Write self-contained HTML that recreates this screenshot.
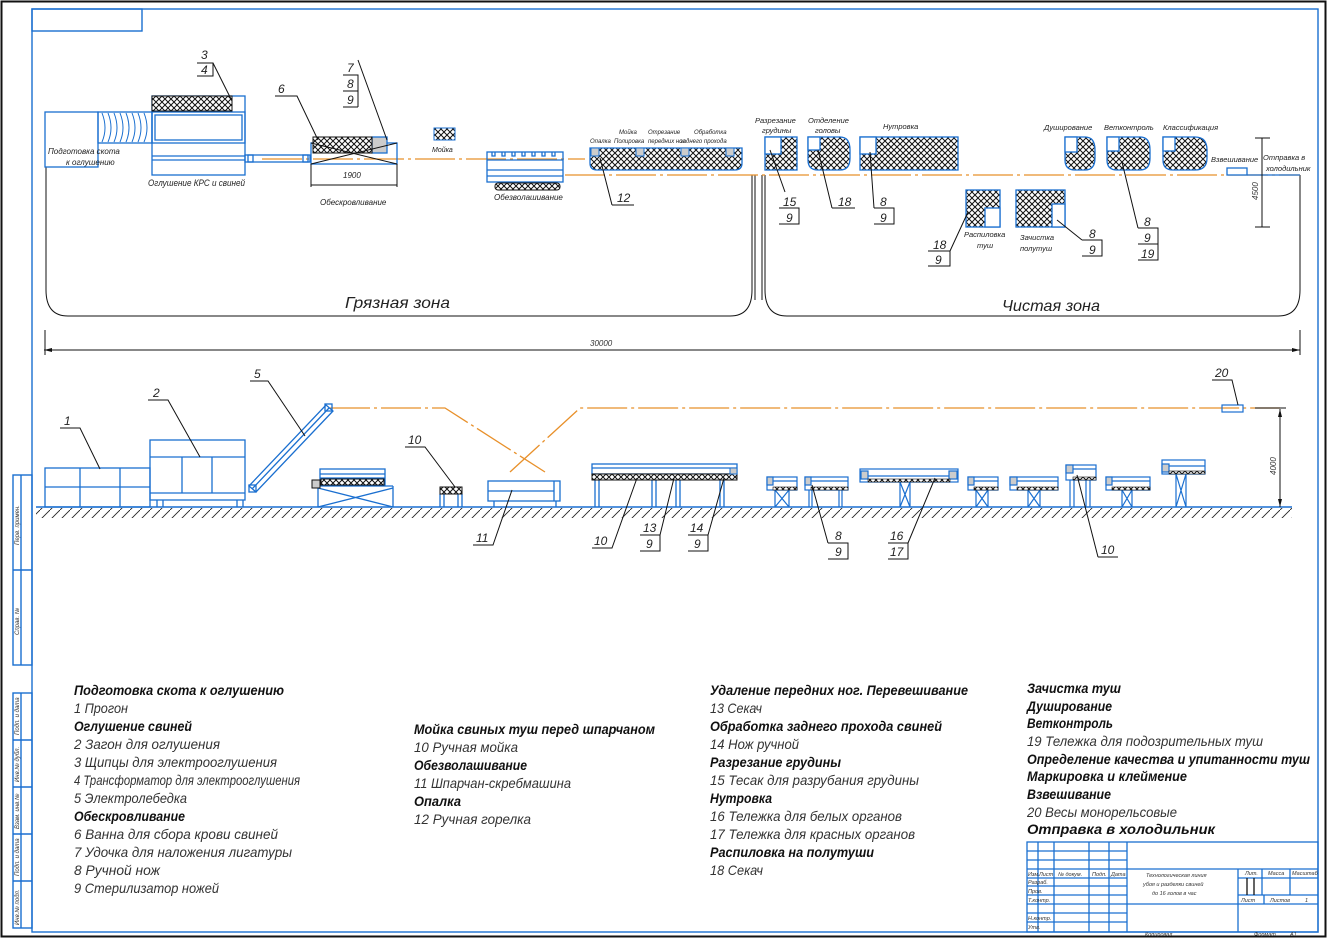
<!DOCTYPE html>
<html><head><meta charset="utf-8"><style>
html,body{margin:0;padding:0;background:#fff}
svg{display:block}
text{font-family:"Liberation Sans","DejaVu Sans",sans-serif;font-style:italic}
</style></head><body>
<svg width="1327" height="938" viewBox="0 0 1327 938" xmlns="http://www.w3.org/2000/svg">
<defs>
<pattern id="h" width="6" height="6" patternUnits="userSpaceOnUse">
<rect width="6" height="6" fill="#fff"/>
<path d="M0 0L6 6M6 0L0 6" stroke="#111" stroke-width="1"/>
</pattern>
<pattern id="g" width="10" height="10" patternUnits="userSpaceOnUse">
<path d="M0 10L10 0" stroke="#222" stroke-width="0.9"/>
</pattern>
</defs>
<rect x="0" y="0" width="1327" height="938" fill="#fff"/>
<rect x="1.5" y="1.5" width="1324" height="935" fill="none" stroke="#111" stroke-width="2"/>
<g fill="none" stroke="#1a6fd0" stroke-width="1.4">
<rect x="32" y="9" width="1286" height="923"/>
<rect x="32" y="9" width="110" height="22"/>
<!-- left strips -->
<rect x="13" y="475" width="19" height="190"/><line x1="21" y1="475" x2="21" y2="665"/><line x1="13" y1="570" x2="32" y2="570"/>
<rect x="13" y="693" width="19" height="235"/><line x1="21" y1="693" x2="21" y2="928"/>
<line x1="13" y1="740" x2="32" y2="740"/><line x1="13" y1="787" x2="32" y2="787"/><line x1="13" y1="834" x2="32" y2="834"/><line x1="13" y1="881" x2="32" y2="881"/>
</g>
<g font-size="6" fill="#333">
<text transform="translate(19,545) rotate(-90)">Перв. примен.</text>
<text transform="translate(19,635) rotate(-90)">Справ. №</text>
<text transform="translate(19,735) rotate(-90)">Подп. и дата</text>
<text transform="translate(19,782) rotate(-90)">Инв.№ дубл.</text>
<text transform="translate(19,829) rotate(-90)">Взам. инв.№</text>
<text transform="translate(19,876) rotate(-90)">Подп. и дата</text>
<text transform="translate(19,925) rotate(-90)">Инв.№ подл.</text>
</g>

<!-- ========== TOP PLAN ========== -->
<!-- zone outlines -->
<g fill="none" stroke="#111" stroke-width="1">
<path d="M46 167 V290 Q46 316 68 316 H730 Q752 316 752 290 V175"/>
<path d="M765 175 V290 Q765 316 787 316 H1278 Q1300 316 1300 290 V175"/>
<line x1="755" y1="175" x2="755" y2="300"/><line x1="762" y1="175" x2="762" y2="300"/>
<line x1="44" y1="350" x2="1300" y2="350"/>
<line x1="45" y1="330" x2="45" y2="355"/><line x1="1300" y1="330" x2="1300" y2="355"/>
</g>
<path d="M44 350l8 -2v4zM1300 350l-8 -2v4z" fill="#111"/>
<text x="590" y="346" font-size="8" fill="#333">30000</text>
<text x="345" y="308" font-size="16" fill="#222" textLength="105" lengthAdjust="spacingAndGlyphs">Грязная зона</text>
<text x="1002" y="311" font-size="16" fill="#222" textLength="98" lengthAdjust="spacingAndGlyphs">Чистая зона</text>

<!-- orange line -->
<g stroke="#e8902a" stroke-width="1.3" fill="none" stroke-dasharray="40 4 3 4">
<line x1="262" y1="159" x2="585" y2="159"/>
<line x1="565" y1="175" x2="1300" y2="175"/>
</g>

<!-- stunning area -->
<g fill="none" stroke="#1a6fd0" stroke-width="1.3">
<rect x="45" y="112" width="53" height="55"/>
<rect x="98" y="112" width="54" height="31"/>
<path d="M102 113 q6 15 0 29 M108 113 q6 15 0 29 M114 113 q6 15 0 29 M120 113 q6 15 0 29 M126 113 q6 15 0 29 M132 113 q6 15 0 29 M138 113 q6 15 0 29 M144 113 q6 15 0 29" stroke-width="1"/>
<rect x="152" y="96" width="93" height="79"/>
<rect x="152" y="112" width="93" height="31"/>
<rect x="155" y="115" width="87" height="25"/>
<line x1="152" y1="156" x2="245" y2="156"/><line x1="152" y1="160" x2="245" y2="160"/>
<rect x="245" y="155" width="65" height="7"/>
<rect x="248" y="155" width="5" height="7"/><rect x="303" y="155" width="5" height="7"/>
</g>
<rect x="152" y="96" width="80" height="15" fill="url(#h)" stroke="#111"/>
<text x="48" y="154" font-size="8" fill="#222">Подготовка скота</text>
<text x="66" y="165" font-size="8" fill="#222">к оглушению</text>
<text x="148" y="186" font-size="9" fill="#222" textLength="97" lengthAdjust="spacingAndGlyphs">Оглушение КРС и свиней</text>

<!-- bleeding -->
<g fill="none" stroke="#1a6fd0" stroke-width="1.3">
<rect x="311" y="143" width="86" height="21"/>
<rect x="372" y="137" width="15" height="16" fill="#ccc"/>
</g>
<rect x="313" y="137" width="59" height="16" fill="url(#h)" stroke="#111"/>
<path d="M311 143 L397 164 M311 164 L397 143" stroke="#111" fill="none"/>
<path d="M311 164 V187 M397 164 V187 M311 185 H397" stroke="#111" fill="none"/>
<text x="343" y="178" font-size="8" fill="#222">1900</text>
<text x="320" y="205" font-size="8" fill="#222">Обескровливание</text>

<rect x="434" y="128" width="21" height="12" fill="url(#h)" stroke="#1a6fd0"/>
<text x="432" y="152" font-size="7" fill="#222">Мойка</text>

<!-- dehairing -->
<g fill="none" stroke="#1a6fd0" stroke-width="1.3">
<rect x="487" y="152" width="76" height="30"/>
<line x1="487" y1="160" x2="563" y2="160"/><line x1="487" y1="170" x2="563" y2="170"/><line x1="487" y1="176" x2="563" y2="176"/>
<path d="M492 152v4h3v-4M502 152v4h3v-4M512 152v4h3v-4M522 152v4h3v-4M532 152v4h3v-4M542 152v4h3v-4M552 152v4h3v-4"/>
</g>
<rect x="495" y="183" width="65" height="7" rx="3" fill="url(#h)" stroke="#111"/>
<text x="494" y="200" font-size="8" fill="#222">Обезволашивание</text>

<!-- singeing bar 12 -->
<path d="M590 148 H742 V163 Q742 170 735 170 H597 Q590 170 590 163 Z" fill="url(#h)" stroke="#1a6fd0" stroke-width="1.3"/>
<g fill="#ccc" stroke="#1a6fd0"><rect x="591" y="148" width="8" height="8"/><rect x="636" y="148" width="8" height="8"/><rect x="681" y="148" width="8" height="8"/><rect x="726" y="148" width="8" height="8"/></g>
<g font-size="6" fill="#222">
<text x="590" y="143">Опалка</text><text x="614" y="143">Полировка</text><text x="619" y="134">Мойка</text>
<text x="648" y="134">Отрезание</text><text x="648" y="143">передних ног</text>
<text x="694" y="134">Обработка</text><text x="680" y="143">заднего прохода</text>
</g>

<!-- clean zone blocks -->
<g stroke="#1a6fd0" stroke-width="1.3">
<rect x="765" y="137" width="32" height="33" fill="url(#h)"/><rect x="765" y="137" width="16" height="17" fill="#fff"/>
<path d="M808 137 H840 Q850 137 850 150 V158 Q850 170 840 170 H818 Q808 170 808 160 Z" fill="url(#h)"/><rect x="808" y="137" width="12" height="13" fill="#fff"/>
<rect x="860" y="137" width="98" height="33" fill="url(#h)"/><rect x="860" y="137" width="16" height="17" fill="#fff"/>
<path d="M1065 137 H1085 Q1095 137 1095 150 V158 Q1095 170 1085 170 H1075 Q1065 170 1065 160 Z" fill="url(#h)"/><rect x="1065" y="137" width="12" height="15" fill="#fff"/>
<path d="M1107 137 H1140 Q1150 137 1150 150 V158 Q1150 170 1140 170 H1117 Q1107 170 1107 160 Z" fill="url(#h)"/><rect x="1107" y="137" width="12" height="14" fill="#fff"/>
<path d="M1163 137 H1195 Q1207 137 1207 150 V158 Q1207 170 1195 170 H1173 Q1163 170 1163 160 Z" fill="url(#h)"/><rect x="1163" y="137" width="12" height="14" fill="#fff"/>
<rect x="1227" y="168" width="20" height="7" fill="#fff"/>
<rect x="966" y="190" width="34" height="37" fill="url(#h)"/><rect x="985" y="208" width="15" height="19" fill="#fff"/>
<rect x="1016" y="190" width="49" height="37" fill="url(#h)"/><rect x="1052" y="204" width="13" height="23" fill="#fff"/>
</g>
<line x1="1247" y1="175" x2="1300" y2="175" stroke="#1a6fd0" stroke-width="1.3"/>
<g font-size="7.5" fill="#222">
<text x="755" y="123">Разрезание</text><text x="762" y="133">грудины</text>
<text x="808" y="123">Отделение</text><text x="815" y="133">головы</text>
<text x="883" y="129">Нутровка</text>
<text x="1044" y="130">Душирование</text><text x="1104" y="130">Ветконтроль</text><text x="1163" y="130">Классификация</text>
<text x="1211" y="162">Взвешивание</text>
<text x="1263" y="160">Отправка в</text><text x="1266" y="171">холодильник</text>
<text x="964" y="237">Распиловка</text><text x="977" y="248">туш</text>
<text x="1020" y="240">Зачистка</text><text x="1020" y="251">полутуш</text>
</g>
<g stroke="#111" fill="none"><line x1="1262" y1="138" x2="1262" y2="227"/><line x1="1255" y1="138" x2="1270" y2="138"/><line x1="1255" y1="227" x2="1270" y2="227"/></g>
<text transform="translate(1258,200) rotate(-90)" font-size="8" fill="#333">4500</text>

<!-- leaders top -->
<g stroke="#111" fill="none" stroke-width="1">
<path d="M197 63 H213 V76 H197 M213 63 L232 101"/>
<path d="M275 96 H297 L318 140"/>
<path d="M343 75 H358 V107 M343 91 H358 M343 107 H358 M358 60 L387 140"/>
<path d="M612 205 H634 M612 205 L600 158"/>
<path d="M779 208 H799 V224 H779 M785 192 L770 150"/>
<path d="M832 208 H855 M832 208 L818 150"/>
<path d="M874 208 H894 V224 H874 M874 208 L870 152"/>
<path d="M928 251 H950 V266 H928 M950 251 L968 212"/>
<path d="M1082 240 H1102 V256 H1082 M1082 240 L1057 220"/>
<path d="M1138 228 H1158 V260 H1138 M1138 244 H1158 M1138 228 L1122 162"/>
</g>
<g font-size="12" fill="#222">
<text x="201" y="59">3</text><text x="201" y="74">4</text>
<text x="278" y="93">6</text>
<text x="347" y="72">7</text><text x="347" y="88">8</text><text x="347" y="104">9</text>
<text x="617" y="202">12</text>
<text x="783" y="206">15</text><text x="786" y="222">9</text>
<text x="838" y="206">18</text>
<text x="880" y="206">8</text><text x="880" y="222">9</text>
<text x="933" y="249">18</text><text x="935" y="264">9</text>
<text x="1089" y="238">8</text><text x="1089" y="254">9</text>
<text x="1144" y="226">8</text><text x="1144" y="242">9</text><text x="1141" y="258">19</text>
</g>

<!-- ========== ELEVATION ========== -->
<rect x="36" y="508" width="1256" height="10" fill="url(#g)"/>
<line x1="36" y1="507" x2="1292" y2="507" stroke="#1a6fd0" stroke-width="1.5"/>
<g stroke="#e8902a" stroke-width="1.3" fill="none" stroke-dasharray="40 4 3 4">
<path d="M330 408 H445 L545 472"/>
<path d="M510 472 L580 408 H1280"/>
</g>
<g fill="none" stroke="#1a6fd0" stroke-width="1.3">
<rect x="45" y="468" width="105" height="39"/><line x1="45" y1="487" x2="150" y2="487"/><line x1="80" y1="468" x2="80" y2="507"/><line x1="120" y1="468" x2="120" y2="507"/>
<rect x="150" y="440" width="95" height="60"/><line x1="150" y1="457" x2="245" y2="457"/><line x1="182" y1="457" x2="182" y2="493"/><line x1="212" y1="457" x2="212" y2="493"/><line x1="150" y1="493" x2="245" y2="493"/>
<path d="M157 500v7M163 500v7M237 500v7M243 500v7"/>
<path d="M249 486 L326 405 L333 411 L256 492 Z M252 489 L329 408"/>
<rect x="249" y="485" width="7" height="7"/><rect x="325" y="404" width="7" height="7"/>
<rect x="312" y="486" width="81" height="21" stroke="none"/>
<path d="M318 486 H393 M318 486 V507 M393 486 V507 M318 488 L393 507 M318 507 L393 488"/>
<rect x="320" y="469" width="65" height="16"/><line x1="320" y1="474" x2="385" y2="474"/><line x1="320" y1="478" x2="385" y2="478"/>
<path d="M440 494 V507 M444 494 V507 M458 494 V507 M462 494 V507"/>
<rect x="488" y="481" width="72" height="20"/><line x1="488" y1="491" x2="554" y2="491"/><line x1="554" y1="481" x2="554" y2="501"/>
<path d="M494 501v6M556 501v6"/>
<rect x="592" y="464" width="145" height="10"/><line x1="592" y1="468" x2="737" y2="468"/>
<path d="M595 480V507M599 480V507M652 480V507M656 480V507M676 480V507M680 480V507M720 480V507M724 480V507"/>
</g>
<rect x="312" y="480" width="8" height="8" fill="#ccc" stroke="#111"/>
<rect x="440" y="487" width="22" height="7" fill="url(#h)" stroke="#111"/>
<rect x="321" y="479" width="63" height="6" fill="url(#h)" stroke="#111"/>
<rect x="592" y="474" width="145" height="6" fill="url(#h)" stroke="#111"/>
<rect x="730" y="468" width="7" height="6" fill="#ccc" stroke="#1a6fd0"/>
<!-- small tables -->
<g stroke="#1a6fd0" stroke-width="1.2" fill="none">
<g transform="translate(767,477)"><rect width="30" height="13"/><rect width="6" height="8" fill="#ccc"/><line x1="6" y1="4" x2="30" y2="4"/><path d="M8 13V30M22 13V30M8 13L22 30M22 13L8 30"/></g>
<g transform="translate(805,477)"><rect width="43" height="13"/><rect width="6" height="8" fill="#ccc"/><line x1="6" y1="4" x2="43" y2="4"/><path d="M4 13V30M7 13V30M34 13V30M37 13V30"/></g>
<g transform="translate(860,469)"><rect width="98" height="13"/><rect x="1" y="2" width="7" height="8" fill="#ccc"/><rect x="89" y="2" width="8" height="8" fill="#ccc"/><line x1="8" y1="7" x2="89" y2="7"/><path d="M40 13V38M50 13V38M40 13L50 38M50 13L40 38"/></g>
<g transform="translate(968,477)"><rect width="30" height="13"/><rect width="6" height="8" fill="#ccc"/><line x1="6" y1="4" x2="30" y2="4"/><path d="M8 13V30M20 13V30M8 13L20 30M20 13L8 30"/></g>
<g transform="translate(1010,477)"><rect width="48" height="13"/><rect width="7" height="8" fill="#ccc"/><line x1="7" y1="4" x2="48" y2="4"/><path d="M18 13V30M30 13V30M18 13L30 30M30 13L18 30"/></g>
<g transform="translate(1066,465)"><rect width="30" height="15"/><rect width="7" height="8" fill="#ccc"/><line x1="7" y1="4" x2="30" y2="4"/><path d="M4 15V42M8 15V42M20 15V42M24 15V42"/></g>
<g transform="translate(1106,477)"><rect width="44" height="13"/><rect width="6" height="8" fill="#ccc"/><line x1="6" y1="4" x2="44" y2="4"/><path d="M16 13V30M26 13V30M16 13L26 30M26 13L16 30"/></g>
<g transform="translate(1162,460)"><rect width="43" height="14"/><rect y="4" width="7" height="8" fill="#ccc"/><line x1="7" y1="6" x2="43" y2="6"/><path d="M14 14V47M24 14V47M14 14L24 47M24 14L14 47"/></g>
<rect x="1222" y="405" width="21" height="7"/>
</g>
<g fill="url(#h)" stroke="#111" stroke-width="0.6">
<rect x="773" y="487" width="24" height="3"/><rect x="811" y="487" width="37" height="3"/><rect x="868" y="479" width="82" height="3"/>
<rect x="974" y="487" width="24" height="3"/><rect x="1017" y="487" width="41" height="3"/><rect x="1073" y="477" width="23" height="3"/>
<rect x="1112" y="487" width="38" height="3"/><rect x="1169" y="471" width="36" height="3"/>
</g>
<g stroke="#111" fill="none"><line x1="1280" y1="409" x2="1280" y2="507"/><line x1="1255" y1="408" x2="1286" y2="408"/></g>
<path d="M1280 409l-2 8h4zM1280 507l-2 -8h4z" fill="#111"/>
<text transform="translate(1276,475) rotate(-90)" font-size="8" fill="#333">4000</text>

<!-- leaders bottom -->
<g stroke="#111" fill="none" stroke-width="1">
<path d="M60 428 H80 L100 469"/>
<path d="M148 400 H168 L200 457"/>
<path d="M250 381 H268 L305 436"/>
<path d="M405 447 H425 L455 487"/>
<path d="M473 545 H493 L512 490"/>
<path d="M592 548 H612 L637 478"/>
<path d="M640 535 H660 V551 H640 M660 535 L674 478"/>
<path d="M688 535 H708 V551 H688 M708 535 L724 478"/>
<path d="M828 543 H848 V559 H828 M828 543 L812 485"/>
<path d="M888 543 H908 V559 H888 M908 543 L935 478"/>
<path d="M1098 557 H1118 M1098 557 L1077 475"/>
<path d="M1212 380 H1232 L1238 405"/>
</g>
<g font-size="12" fill="#222">
<text x="64" y="425">1</text><text x="153" y="397">2</text><text x="254" y="378">5</text>
<text x="408" y="444">10</text><text x="476" y="542">11</text><text x="594" y="545">10</text>
<text x="643" y="532">13</text><text x="646" y="548">9</text>
<text x="690" y="532">14</text><text x="694" y="548">9</text>
<text x="835" y="540">8</text><text x="835" y="556">9</text>
<text x="890" y="540">16</text><text x="890" y="556">17</text>
<text x="1101" y="554">10</text><text x="1215" y="377">20</text>
</g>

<!-- ========== LEGEND ========== -->
<g font-size="14" fill="#111" lengthAdjust="spacingAndGlyphs">
<text x="74" y="695" font-weight="bold" textLength="210" lengthAdjust="spacingAndGlyphs">Подготовка скота к оглушению</text>
<text x="74" y="713" fill="#333" textLength="54" lengthAdjust="spacingAndGlyphs">1 Прогон</text>
<text x="74" y="731" font-weight="bold" textLength="118" lengthAdjust="spacingAndGlyphs">Оглушение свиней</text>
<text x="74" y="749" fill="#333" textLength="146" lengthAdjust="spacingAndGlyphs">2 Загон для оглушения</text>
<text x="74" y="767" fill="#333" textLength="203" lengthAdjust="spacingAndGlyphs">3 Щипцы для электрооглушения</text>
<text x="74" y="785" fill="#333" textLength="226" lengthAdjust="spacingAndGlyphs">4 Трансформатор для электрооглушения</text>
<text x="74" y="803" fill="#333" textLength="113" lengthAdjust="spacingAndGlyphs">5 Электролебедка</text>
<text x="74" y="821" font-weight="bold" textLength="111" lengthAdjust="spacingAndGlyphs">Обескровливание</text>
<text x="74" y="839" fill="#333" textLength="204" lengthAdjust="spacingAndGlyphs">6 Ванна для сбора крови свиней</text>
<text x="74" y="857" fill="#333" textLength="218" lengthAdjust="spacingAndGlyphs">7 Удочка для наложения лигатуры</text>
<text x="74" y="875" fill="#333" textLength="86" lengthAdjust="spacingAndGlyphs">8 Ручной нож</text>
<text x="74" y="893" fill="#333" textLength="145" lengthAdjust="spacingAndGlyphs">9 Стерилизатор ножей</text>

<text x="414" y="734" font-weight="bold" textLength="241" lengthAdjust="spacingAndGlyphs">Мойка свиных туш перед шпарчаном</text>
<text x="414" y="752" fill="#333" textLength="104" lengthAdjust="spacingAndGlyphs">10 Ручная мойка</text>
<text x="414" y="770" font-weight="bold" textLength="113" lengthAdjust="spacingAndGlyphs">Обезволашивание</text>
<text x="414" y="788" fill="#333" textLength="157" lengthAdjust="spacingAndGlyphs">11 Шпарчан-скребмашина</text>
<text x="414" y="806" font-weight="bold" textLength="47" lengthAdjust="spacingAndGlyphs">Опалка</text>
<text x="414" y="824" fill="#333" textLength="117" lengthAdjust="spacingAndGlyphs">12 Ручная горелка</text>

<text x="710" y="695" font-weight="bold" textLength="258" lengthAdjust="spacingAndGlyphs">Удаление передних ног. Перевешивание</text>
<text x="710" y="713" fill="#333" textLength="52" lengthAdjust="spacingAndGlyphs">13 Секач</text>
<text x="710" y="731" font-weight="bold" textLength="232" lengthAdjust="spacingAndGlyphs">Обработка заднего прохода свиней</text>
<text x="710" y="749" fill="#333" textLength="89" lengthAdjust="spacingAndGlyphs">14 Нож ручной</text>
<text x="710" y="767" font-weight="bold" textLength="131" lengthAdjust="spacingAndGlyphs">Разрезание грудины</text>
<text x="710" y="785" fill="#333" textLength="209" lengthAdjust="spacingAndGlyphs">15 Тесак для разрубания грудины</text>
<text x="710" y="803" font-weight="bold" textLength="62" lengthAdjust="spacingAndGlyphs">Нутровка</text>
<text x="710" y="821" fill="#333" textLength="192" lengthAdjust="spacingAndGlyphs">16 Тележка для белых органов</text>
<text x="710" y="839" fill="#333" textLength="205" lengthAdjust="spacingAndGlyphs">17 Тележка для красных органов</text>
<text x="710" y="857" font-weight="bold" textLength="164" lengthAdjust="spacingAndGlyphs">Распиловка на полутуши</text>
<text x="710" y="875" fill="#333" textLength="53" lengthAdjust="spacingAndGlyphs">18 Секач</text>

<text x="1027" y="693" font-weight="bold" textLength="94" lengthAdjust="spacingAndGlyphs">Зачистка туш</text>
<text x="1027" y="711" font-weight="bold" textLength="85" lengthAdjust="spacingAndGlyphs">Душирование</text>
<text x="1027" y="728" font-weight="bold" textLength="86" lengthAdjust="spacingAndGlyphs">Ветконтроль</text>
<text x="1027" y="746" fill="#333" textLength="236" lengthAdjust="spacingAndGlyphs">19 Тележка для подозрительных туш</text>
<text x="1027" y="764" font-weight="bold" textLength="283" lengthAdjust="spacingAndGlyphs">Определение качества и упитанности туш</text>
<text x="1027" y="781" font-weight="bold" textLength="160" lengthAdjust="spacingAndGlyphs">Маркировка и клеймение</text>
<text x="1027" y="799" font-weight="bold" textLength="84" lengthAdjust="spacingAndGlyphs">Взвешивание</text>
<text x="1027" y="817" fill="#333" textLength="150" lengthAdjust="spacingAndGlyphs">20 Весы монорельсовые</text>
<text x="1027" y="834" font-weight="bold" textLength="188" lengthAdjust="spacingAndGlyphs">Отправка в холодильник</text>
</g>

<!-- title block -->
<g fill="none" stroke="#1a6fd0" stroke-width="1.3">
<rect x="1027" y="842" width="291" height="90"/>
<line x1="1127" y1="842" x2="1127" y2="932"/>
<line x1="1038" y1="842" x2="1038" y2="932"/><line x1="1054" y1="842" x2="1054" y2="932"/><line x1="1089" y1="842" x2="1089" y2="932"/><line x1="1109" y1="842" x2="1109" y2="932"/>
<line x1="1027" y1="851" x2="1127" y2="851"/><line x1="1027" y1="860" x2="1127" y2="860"/><line x1="1027" y1="869" x2="1127" y2="869"/><line x1="1027" y1="878" x2="1127" y2="878"/>
<line x1="1027" y1="886" x2="1127" y2="886"/><line x1="1027" y1="895" x2="1127" y2="895"/><line x1="1027" y1="904" x2="1127" y2="904"/><line x1="1027" y1="913" x2="1127" y2="913"/><line x1="1027" y1="922" x2="1127" y2="922"/>
<line x1="1127" y1="869" x2="1318" y2="869"/><line x1="1127" y1="904" x2="1318" y2="904"/>
<line x1="1238" y1="869" x2="1238" y2="932"/>
<line x1="1238" y1="878" x2="1318" y2="878"/><line x1="1238" y1="895" x2="1318" y2="895"/>
<line x1="1262" y1="869" x2="1262" y2="895"/><line x1="1290" y1="869" x2="1290" y2="895"/>
<line x1="1247" y1="878" x2="1247" y2="895" stroke="#111"/><line x1="1254" y1="878" x2="1254" y2="895" stroke="#111"/>
<line x1="1264" y1="895" x2="1264" y2="904"/>
</g>
<g font-size="5.5" fill="#333">
<text x="1028" y="876">Изм.</text><text x="1039" y="876">Лист</text><text x="1058" y="876">№ докум.</text><text x="1092" y="876">Подп.</text><text x="1111" y="876">Дата</text>
<text x="1028" y="884">Разраб.</text><text x="1028" y="893">Пров.</text><text x="1028" y="902">Т.контр.</text><text x="1028" y="920">Н.контр.</text><text x="1028" y="929">Утв.</text>
<text x="1146" y="877">Технологическая линия</text><text x="1143" y="886">убоя и разделки свиней</text><text x="1152" y="895">до 16 голов в час</text>
<text x="1245" y="875">Лит.</text><text x="1268" y="875">Масса</text><text x="1292" y="875">Масштаб</text>
<text x="1241" y="902">Лист</text><text x="1270" y="902">Листов</text><text x="1305" y="902">1</text>
<text x="1145" y="936">Копировал</text><text x="1254" y="936">Формат</text><text x="1290" y="936">A1</text>
</g>
</svg>
</body></html>
